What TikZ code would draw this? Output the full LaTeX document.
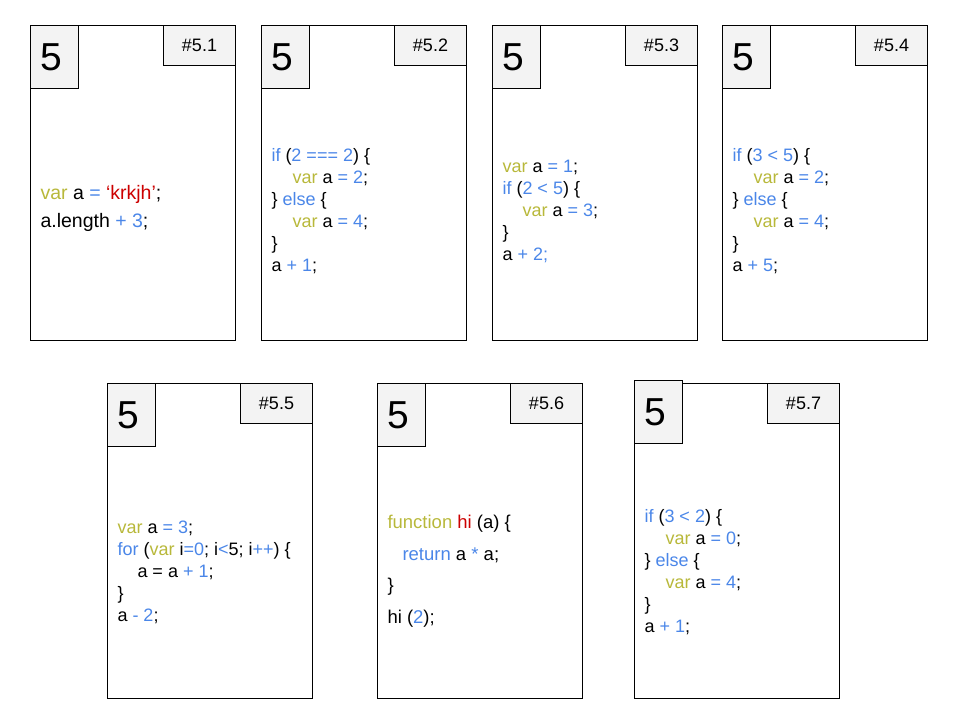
\documentclass[tikz,border=0pt]{standalone}
\usepackage{fontspec}
\setmainfont{Liberation Sans}
\usepackage{xcolor}
\usepackage{tikz}
\usetikzlibrary{positioning,calc}
\definecolor{kwolive}{HTML}{B8B83A}
\definecolor{opblue}{HTML}{4A86E8}
\definecolor{strred}{HTML}{CC0000}
\definecolor{boxgray}{HTML}{F3F3F3}
\newcommand{\codekw}[1]{\textcolor{kwolive}{#1}}
\newcommand{\codeop}[1]{\textcolor{opblue}{#1}}
\newcommand{\codestr}[1]{\textcolor{strred}{#1}}

\begin{document}
\begin{tikzpicture}[x=1pt,y=-1pt,line width=1pt,
    card/.style={draw,minimum width=205pt,minimum height=315pt,anchor=north west,inner sep=0pt},
    numbox/.style={draw,fill=boxgray,minimum width=48pt,minimum height=63pt,anchor=north west,inner sep=0pt,font=\fontsize{39}{39}\selectfont},
    labbox/.style={draw,fill=boxgray,minimum width=72pt,minimum height=40pt,anchor=north east,inner sep=0pt,font=\fontsize{18}{18}\selectfont},
    code/.style={anchor=base west,align=left,inner sep=0pt,font=\fontsize{18}{22}\selectfont}]
    \useasboundingbox (0,0) rectangle (960,720);
    % cards
    \foreach \i/\x/\y/\d in {1/30/25/0,2/261/25/0,3/492/25/0,4/722/25/0,5/107/383/0,6/377/383/0,7/634/383/3} {
      \node[card] (card\i) at (\x,\y) {};
      \node[numbox] (num\i) at ($(card\i.north west)+(0,-\d)$) {\hspace*{-6pt}\raisebox{-3pt}{5}};
      \node[labbox] (lab\i) at (card\i.north east) {\#5.\i};
    }
    % code (anchored at the last line)
    \node[code,font=\fontsize{19.5}{28}\selectfont] (code1) at ($(card1.north west)+(10,202)$)
      {\codekw{var} a \codeop{=} \codestr{‘krkjh’};\\a.length \codeop{+ 3};};
    \node[code] (code2) at ($(card2.north west)+(10,246)$)
      {\codeop{if} (\codeop{2 === 2}) \{\\\hspace*{21pt}\codekw{var} a \codeop{= 2};\\\} \codeop{else} \{\\\hspace*{21pt}\codekw{var} a \codeop{= 4};\\\}\\a \codeop{+ 1};};
    \node[code] (code3) at ($(card3.north west)+(10,235)$)
      {\codekw{var} a \codeop{= 1};\\\codeop{if} (\codeop{2 < 5}) \{\\\hspace*{20pt}\codekw{var} a \codeop{= 3};\\\}\\a \codeop{+ 2;}};
    \node[code] (code4) at ($(card4.north west)+(10,246)$)
      {\codeop{if} (\codeop{3 < 5}) \{\\\hspace*{21pt}\codekw{var} a \codeop{= 2};\\\} \codeop{else} \{\\\hspace*{21pt}\codekw{var} a \codeop{= 4};\\\}\\a \codeop{+ 5};};
    \node[code] (code5) at ($(card5.north west)+(10,238)$)
      {\codekw{var} a \codeop{= 3};\\\codeop{for} (\codekw{var} i\codeop{=0}; i\codeop{<}5; i\codeop{++}) \{\\\hspace*{20pt}a = a \codeop{+ 1};\\\}\\a \codeop{- 2};};
    \node[code,font=\fontsize{18.5}{31.5}\selectfont] (code6) at ($(card6.north west)+(10,240)$)
      {\codekw{function} \codestr{hi} (a) \{\\\hspace*{15pt}\codeop{return} a \codeop{*} a;\\\}\\hi (\codeop{2});};
    \node[code] (code7) at ($(card7.north west)+(10,249)$)
      {\codeop{if} (\codeop{3 < 2}) \{\\\hspace*{21pt}\codekw{var} a \codeop{= 0};\\\} \codeop{else} \{\\\hspace*{21pt}\codekw{var} a \codeop{= 4};\\\}\\a \codeop{+ 1};};
\end{tikzpicture}
\end{document}
